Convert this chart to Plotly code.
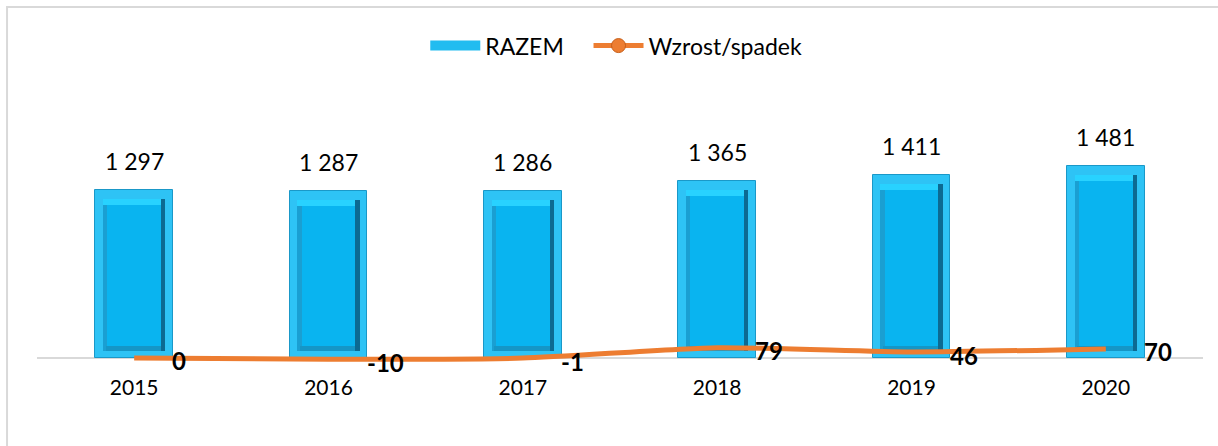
import plotly.graph_objects as go

# Data
years = ["2015", "2016", "2017", "2018", "2019", "2020"]
razem = [1297, 1287, 1286, 1365, 1411, 1481]
zmiana = [0, -10, -1, 79, 46, 70]

FONT = "Lato"
ORANGE = "#ed7d31"
CYAN = "#22bcf0"

# Bevelled bar look built from stacked overlay layers
BAR_W = 0.40
RIM = 0.040           # side rim width (category units)
TOP_IN = 70           # top rim (value units)
BOT_IN = 55           # bottom rim (value units)
FACE_IN = 0.022       # inner face inset
FACE_TOP = 45
FACE_BOT = 40

n = len(years)
idx = list(range(n))
fig = go.Figure()

# outer rim
fig.add_trace(go.Bar(
    x=years, y=razem, width=[BAR_W] * n, offset=[-BAR_W / 2] * n,
    marker=dict(color="#2ec3f5", line=dict(color="#1a98c8", width=1)),
    showlegend=False, hoverinfo="skip",
))

# inner recessed panel (dark edges)
inner_w = BAR_W - 2 * RIM
fig.add_trace(go.Bar(
    x=years, y=[v - TOP_IN - BOT_IN for v in razem], base=[BOT_IN] * n,
    width=[inner_w] * n, offset=[-inner_w / 2] * n,
    marker=dict(color="#0c6a92", line=dict(width=0)),
    showlegend=False, hoverinfo="skip",
))

# top bright bevel of the inner panel
fig.add_trace(go.Bar(
    x=years, y=[FACE_TOP] * n, base=[v - TOP_IN - FACE_TOP for v in razem],
    width=[inner_w - FACE_IN] * n, offset=[-inner_w / 2] * n,
    marker=dict(color="#28d2ff", line=dict(width=0)),
    showlegend=False, hoverinfo="skip",
))

# left mid-tone bevel of the inner panel
fig.add_trace(go.Bar(
    x=years, y=[v - TOP_IN - BOT_IN - FACE_TOP for v in razem], base=[BOT_IN] * n,
    width=[FACE_IN] * n, offset=[-inner_w / 2] * n,
    marker=dict(color="#1a9fd2", line=dict(width=0)),
    showlegend=False, hoverinfo="skip",
))

# bottom bevel of the inner panel
fig.add_trace(go.Bar(
    x=years, y=[FACE_BOT] * n, base=[BOT_IN] * n,
    width=[inner_w - FACE_IN * 1.6] * n, offset=[-inner_w / 2 + FACE_IN * 0.6] * n,
    marker=dict(color="#1596c6", line=dict(width=0)),
    showlegend=False, hoverinfo="skip",
))

# inner face
face_w = inner_w - 2 * FACE_IN
fig.add_trace(go.Bar(
    x=years, y=[v - TOP_IN - BOT_IN - FACE_TOP - FACE_BOT for v in razem],
    base=[BOT_IN + FACE_BOT] * n,
    width=[face_w] * n, offset=[-inner_w / 2 + FACE_IN] * n,
    marker=dict(color="#09b4f0", line=dict(width=0)),
    showlegend=False, hoverinfo="skip",
))

# change line
fig.add_trace(go.Scatter(
    x=years, y=zmiana, mode="lines",
    line=dict(color=ORANGE, width=5, shape="spline", smoothing=0.6),
    showlegend=False, hoverinfo="skip", cliponaxis=False,
))

# legend entries (one legend box each)
fig.add_trace(go.Scatter(
    x=[years[0]], y=[None], mode="lines", name="RAZEM",
    line=dict(color=CYAN, width=15), legend="legend",
))
fig.add_trace(go.Scatter(
    x=[years[0]], y=[None], mode="lines+markers", name="Wzrost/spadek",
    line=dict(color=ORANGE, width=5),
    marker=dict(color=ORANGE, size=14, line=dict(color="#c65d17", width=1)),
    legend="legend2",
))

annotations = []
for i, v in zip(idx, razem):
    annotations.append(dict(
        x=i, y=v, xref="x", yref="y", text=f"{v:,}".replace(",", " "),
        showarrow=False, yanchor="bottom", yshift=13,
        font=dict(family=FONT, size=23, color="#000000"),
    ))
for i, v in zip(idx, zmiana):
    annotations.append(dict(
        x=i, y=v, xref="x", yref="y", text=f"<b>{v}</b>",
        showarrow=False, xanchor="left", yanchor="middle", xshift=36, yshift=-3,
        font=dict(family=FONT, size=24, color="#000000"),
    ))

legend_style = dict(
    orientation="h", xanchor="left", y=1.281, yanchor="top",
    font=dict(family=FONT, size=23, color="#000000"),
    itemwidth=50, bgcolor="rgba(0,0,0,0)",
)

fig.update_layout(
    width=1218, height=446,
    margin=dict(l=37, r=15, t=100, b=76),
    paper_bgcolor="white", plot_bgcolor="white",
    barmode="overlay", bargap=0,
    font=dict(family=FONT, color="#000000"),
    legend=dict(x=0.333, **legend_style),
    legend2=dict(x=0.473, **legend_style),
    xaxis=dict(
        type="category", categoryorder="array", categoryarray=years,
        range=[-0.5, n - 0.5], autorange=False,
        showgrid=False, showline=False, ticks="",
        tickfont=dict(family=FONT, size=21, color="#000000"),
        ticklabelstandoff=3,
    ),
    yaxis=dict(
        range=[-93, 1992], autorange=False, showgrid=False, showticklabels=False, ticks="",
        zeroline=True, zerolinecolor="#d9d9d9", zerolinewidth=2,
    ),
    annotations=annotations,
    shapes=[dict(
        type="rect", xref="paper", yref="paper",
        x0=-0.0257, x1=1.2, y0=-0.5, y1=1.344,
        line=dict(color="#d9d9d9", width=2), fillcolor="rgba(0,0,0,0)", layer="below",
    )],
)

fig.write_html("out.html")
